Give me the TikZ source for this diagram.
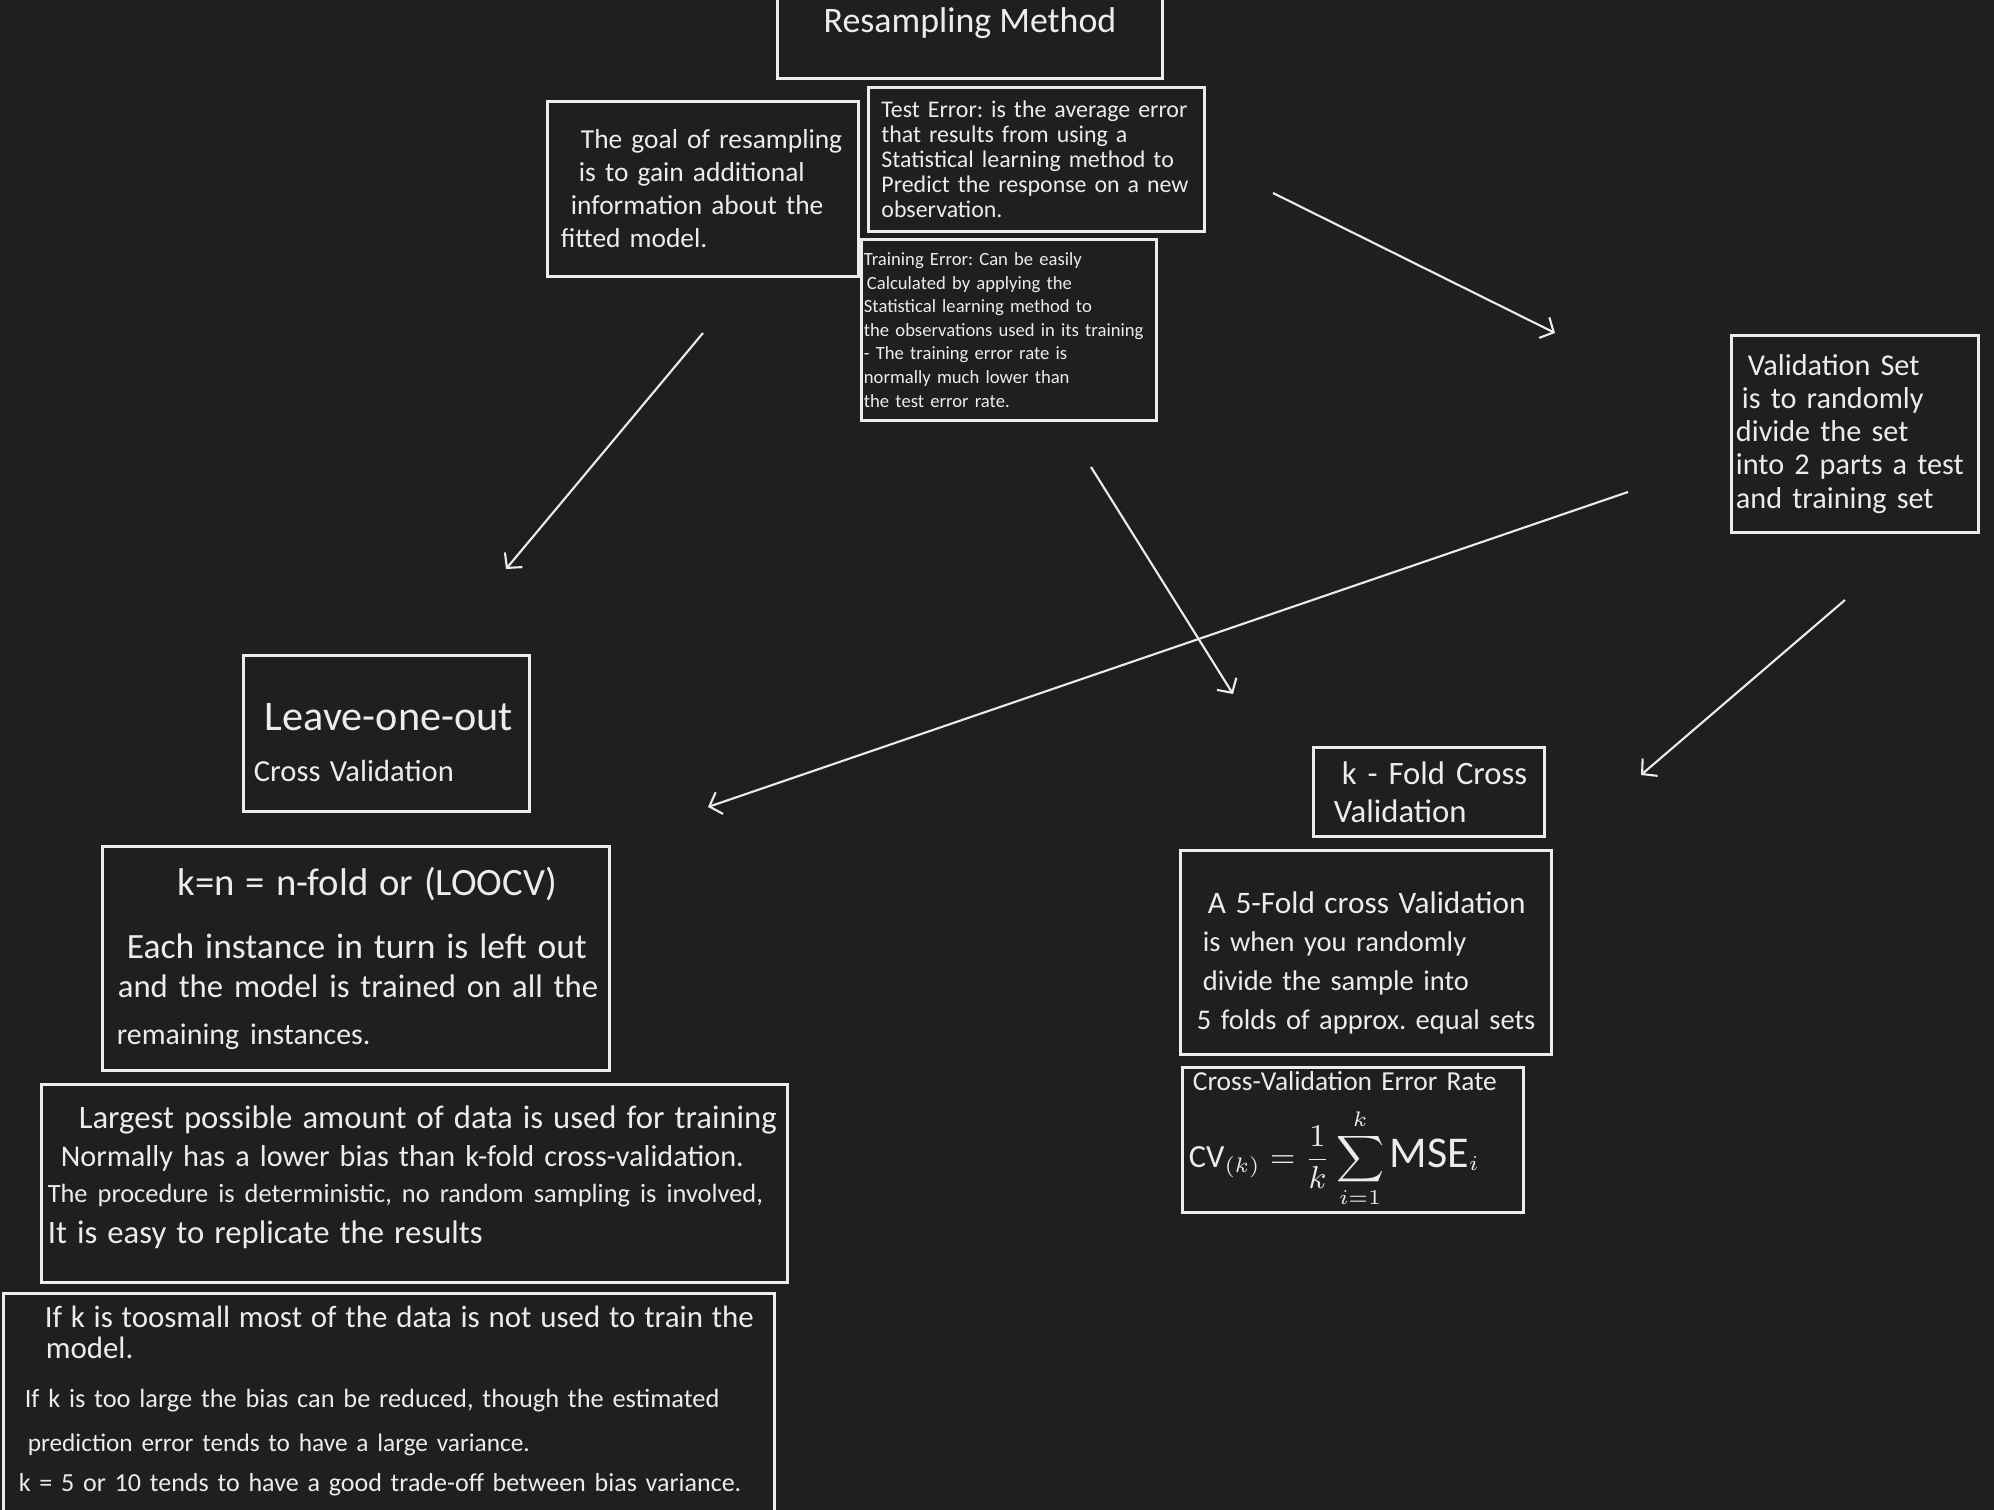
\documentclass[tikz,border=0pt]{standalone}
\usepackage{amssymb, amsmath}
\usepackage{fontspec}
\setmainfont{Carlito}
\frenchspacing
\usepackage{color}
\usepackage{tikz}
\usetikzlibrary{arrows.meta}
\definecolor{board}{RGB}{32, 31, 29}
\definecolor{chalk}{RGB}{236, 236, 234}

\begin{document}
\begin{tikzpicture}[x=0.01cm, y=-0.01cm,
  box/.style={draw=chalk, line width=0.85pt, text=chalk, align=left, inner sep=0pt},
  arr/.style={draw=chalk, line width=0.6pt, -{Straight Barb[length=3pt, width=6.5pt]}}]

  \fill [board] (0, 0) rectangle (1994, 1510);
  \useasboundingbox (0, 0) rectangle (1994, 1510);

  % top row
  \node [box, align=center, minimum width=3.84cm, minimum height=1.10cm,
    font=\fontsize{10.2}{12}\selectfont] (title) at (970, 23) {Resampling Method};

  \node [box, minimum width=3.10cm, minimum height=1.74cm, text width=2.84cm,
    font=\fontsize{7.8}{9.4}\selectfont] (goal) at (703, 189)
    {\hspace*{0.2cm}The goal of resampling\\
     \hspace*{0.18cm}is to gain additional\\
     \hspace*{0.1cm}information about the\\
     fitted model.};

  \node [box, minimum width=3.35cm, minimum height=1.43cm, text width=3.10cm,
    font=\fontsize{6.8}{7.1}\selectfont] (testerr) at (1036.5, 159.5)
    {Test Error: is the average error\\
     that results from using a\\
     Statistical learning method to\\
     Predict the response on a new\\
     observation.};

  \node [box, minimum width=2.94cm, minimum height=1.80cm, text width=2.90cm,
    font=\fontsize{5.3}{6.7}\selectfont] (trainerr) at (1009, 330)
    {Training Error: Can be easily\\
     \hspace*{0.03cm}Calculated by applying the\\
     Statistical learning method to\\
     the observations used in its training\\
     - The training error rate is\\
     normally much lower than\\
     the test error rate.};

  \node [box, minimum width=2.46cm, minimum height=1.96cm, text width=2.38cm,
    font=\fontsize{8.6}{9.4}\selectfont] (valset) at (1855, 434)
    {\hspace*{0.12cm}Validation Set\\
     \hspace*{0.06cm}is to randomly\\
     divide the set\\
     into 2 parts a test\\
     and training set};

  % left column
  \node [box, minimum width=2.85cm, minimum height=1.55cm, text width=2.65cm,
    font=\fontsize{8}{12}\selectfont] (loocv) at (386.5, 733.5)
    {\hspace*{0.11cm}\rule{0pt}{12.9pt}{\fontsize{12}{13}\selectfont Leave-one-out}\\[2.5pt]
     {\fontsize{8.7}{9}\selectfont Cross Validation}};

  \node [box, minimum width=5.06cm, minimum height=2.23cm, text width=4.92cm,
    font=\fontsize{9.3}{12}\selectfont] (kn) at (356, 958.5)
    {\hspace*{0.68cm}{\fontsize{11}{12}\selectfont k=n = n-fold or (LOOCV)}\\[5.9pt]
     \hspace*{0.17cm}{\fontsize{10.1}{12}\selectfont Each instance in turn is left out}\\[-0.9pt]
     \hspace*{0.08cm}and the model is trained on all the\\[1.4pt]
     \hspace*{0.07cm}{\fontsize{8.5}{12}\selectfont remaining instances.}};

  \node [box, minimum width=7.45cm, minimum height=1.97cm, text width=7.33cm,
    font=\fontsize{8.6}{10.8}\selectfont] (largest) at (414.5, 1183.5)
    {\hspace*{0.31cm}{\fontsize{9.3}{10.8}\selectfont Largest possible amount of data is used for training}\\
     \hspace*{0.13cm}Normally has a lower bias than k-fold cross-validation.\\[-0.6pt]
     {\fontsize{7.5}{10.8}\selectfont The procedure is deterministic, no random sampling is involved,}\\[0.9pt]
     {\fontsize{9.3}{10.8}\selectfont It is easy to replicate the results}\rule[-5pt]{0pt}{0pt}};

  \node [box, anchor=north, inner ysep=3.7pt, minimum width=7.70cm, text width=7.40cm,
    font=\fontsize{7.5}{9}\selectfont] (ifk) at (389, 1292)
    {\hspace*{0.26cm}{\fontsize{8.8}{9}\selectfont If k is toosmall most of the data is not used to train the}\\[-0.2pt]
     \hspace*{0.27cm}{\fontsize{8.8}{9}\selectfont model.}\\[4.9pt]
     \hspace*{0.06cm}If k is too large the bias can be reduced, though the estimated\\[3.5pt]
     \hspace*{0.09cm}{\fontsize{7.2}{9}\selectfont prediction error tends to have a large variance.}\\[2.4pt]
     {\fontsize{7.4}{9}\selectfont k = 5 or 10 tends to have a good trade-off between bias variance.}\\[12pt]
     \mbox{}};

  % right column
  \node [box, minimum width=2.30cm, minimum height=0.88cm, text width=2.00cm,
    font=\fontsize{9.3}{10.8}\selectfont] (kfold) at (1429, 792)
    {\hspace*{0.13cm}k - Fold Cross\\
     \hspace*{0.05cm}Validation};

  \node [box, minimum width=3.70cm, minimum height=2.03cm, text width=3.50cm,
    font=\fontsize{8.1}{11}\selectfont] (fivefold) at (1366, 952.5)
    {\hspace*{0.17cm}\rule{0pt}{12pt}{\fontsize{8.9}{11}\selectfont A 5-Fold cross Validation}\\
     \hspace*{0.12cm}is when you randomly\\
     \hspace*{0.12cm}divide the sample into\\
     \hspace*{0.06cm}5 folds of approx. equal sets};

  \node [box, minimum width=3.40cm, minimum height=1.44cm, text width=3.28cm,
    font=\fontsize{7.8}{12}\selectfont] (cverr) at (1353, 1140)
    {\hspace*{0.04cm}Cross-Validation Error Rate\\[4pt]
     {\fontsize{9.2}{12}\selectfont $\displaystyle \mathrm{CV}_{(k)}=\frac{1}{k}\sum_{i=1}^{k}\mbox{\fontsize{12.5}{13}\selectfont MSE}_i$}};

  % arrows
  \coordinate (a1) at (703, 333);   \coordinate (b1) at (506, 569);
  \coordinate (a2) at (1273, 193);  \coordinate (b2) at (1555, 333);
  \coordinate (a3) at (1091, 467);  \coordinate (b3) at (1233, 694);
  \coordinate (a4) at (1628, 492);  \coordinate (b4) at (708, 807);
  \coordinate (a5) at (1845, 600);  \coordinate (b5) at (1641, 775);

  \draw [arr] (a1) -- (b1);
  \draw [arr] (a2) -- (b2);
  \draw [arr] (a3) -- (b3);
  \draw [arr] (a4) -- (b4);
  \draw [arr] (a5) -- (b5);

\end{tikzpicture}
\end{document}
